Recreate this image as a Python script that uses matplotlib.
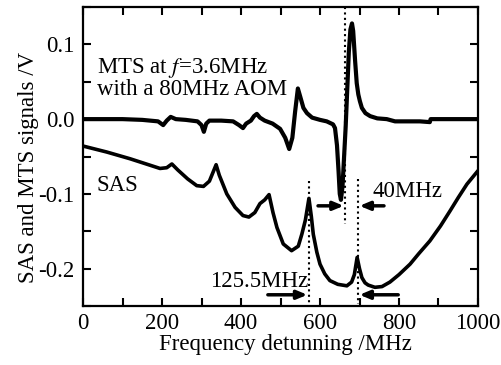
import numpy as np
import matplotlib
matplotlib.use("Agg")
import matplotlib.pyplot as plt
from matplotlib.ticker import MultipleLocator

# MTS signal (V) vs frequency detuning (MHz)
mts_x = [0, 50, 100, 150, 190, 203, 212, 222, 235, 260, 290, 300, 306, 312, 320, 350,
         380, 395, 405, 413, 425, 433, 440, 448, 460, 480, 499, 512, 522, 530, 537, 544,
         550, 558, 567, 580, 600, 617, 633, 638, 643, 647, 650, 653, 657, 661, 665, 669,
         673, 677, 681, 684, 689, 693, 697, 701, 706, 715, 727, 745, 769, 790, 853, 878,
         880, 1000]
mts_y = [0.0, 0.0, 0.0, -0.001, -0.003, -0.008, -0.002, 0.003, 0.0, -0.001, -0.003, -0.008,
         -0.017, -0.006, -0.002, -0.002, -0.003, -0.008, -0.012, -0.006, -0.002, 0.004,
         0.007, 0.002, -0.002, -0.006, -0.013, -0.025, -0.040, -0.025, 0.010, 0.041,
         0.030, 0.015, 0.008, 0.002, -0.001, -0.003, -0.007, -0.012, -0.035, -0.070,
         -0.100, -0.108, -0.090, -0.050, -0.010, 0.040, 0.090, 0.120, 0.128, 0.118,
         0.077, 0.048, 0.033, 0.024, 0.015, 0.008, 0.004, 0.001, 0.0, -0.003, -0.003,
         -0.004, 0.0, 0.0]

# SAS signal (V) vs frequency detuning (MHz)
sas_x = [0, 60, 119, 160, 195, 212, 225, 240, 265, 288, 305, 320, 337, 345, 364, 385,
         405, 420, 435, 448, 460, 471, 481, 491, 507, 528, 545, 554, 563, 572, 578, 583,
         592, 600, 612, 625, 645, 668, 680, 687, 694, 700, 706, 714, 722, 739, 757, 777,
         800, 828, 850, 878, 905, 929, 950, 972, 1000]
sas_y = [-0.036, -0.044, -0.053, -0.060, -0.066, -0.065, -0.060, -0.068, -0.080, -0.089,
         -0.090, -0.083, -0.061, -0.075, -0.100, -0.118, -0.129, -0.131, -0.125, -0.113,
         -0.108, -0.101, -0.125, -0.145, -0.167, -0.176, -0.170, -0.154, -0.135, -0.106,
         -0.130, -0.154, -0.178, -0.194, -0.207, -0.216, -0.221, -0.223, -0.218, -0.208,
         -0.185, -0.200, -0.212, -0.219, -0.222, -0.225, -0.224, -0.218, -0.208, -0.194,
         -0.180, -0.163, -0.143, -0.123, -0.105, -0.087, -0.069]

x_ticks = [0, 200, 400, 600, 800, 1000]
y_ticks = [-0.2, -0.1, 0.0, 0.1]
y_tick_labels = ["-0.2", "-0.1", "0.0", "0.1"]

plt.rcParams['font.family'] = ['Liberation Serif', 'DejaVu Serif']
plt.rcParams['mathtext.fontset'] = 'stix'
FS = 16.5

fig = plt.figure(figsize=(5.01, 3.65), dpi=100)
ax = fig.add_axes([83/501, 1-306/365, (478-83)/501, (306-7)/365])

ax.plot(mts_x, mts_y, color='black', lw=3.0, solid_joinstyle='round', solid_capstyle='round')
ax.plot(sas_x, sas_y, color='black', lw=2.6, solid_joinstyle='round', solid_capstyle='round')

ax.set_xlim(0, 1000)
ax.set_ylim(-0.25, 0.15)
ax.set_xticks(x_ticks)
ax.set_yticks(y_ticks)
ax.set_yticklabels(y_tick_labels)
ax.xaxis.set_minor_locator(MultipleLocator(100))
ax.yaxis.set_minor_locator(MultipleLocator(0.05))
ax.tick_params(which='both', direction='in', top=True, right=True, width=1.5,
               labelsize=FS, pad=6)
ax.tick_params(axis='x', which='both', pad=5)
ax.tick_params(which='major', length=6)
ax.tick_params(which='minor', length=6)
for s in ax.spines.values():
    s.set_linewidth(1.6)

ax.set_xlabel("Frequency detunning /MHz", fontsize=FS)
ax.set_ylabel("SAS and MTS signals /V", fontsize=FS)
ax.xaxis.set_label_coords(0.513, -0.093, transform=ax.transAxes)
ax.xaxis.label.set_va('top')
ax.yaxis.set_label_coords(-0.112, 0.465, transform=ax.transAxes)

# dotted vertical markers
dot = dict(color='black', lw=1.5, linestyle=(0, (1, 1.6)))
ax.plot([572, 572], [-0.083, -0.247], **dot)
ax.plot([697, 697], [-0.08, -0.247], **dot)
ax.plot([664, 664], [0.15, -0.14], **dot)

# arrows
ap = dict(arrowstyle='-|>,head_length=0.6,head_width=0.25', color='black', lw=2.5,
          shrinkA=0, shrinkB=0)
ax.annotate('', xy=(568, -0.235), xytext=(468, -0.235), arrowprops=ap)
ax.annotate('', xy=(700, -0.235), xytext=(798, -0.235), arrowprops=ap)
ax.annotate('', xy=(660, -0.116), xytext=(595, -0.116), arrowprops=ap)
ax.annotate('', xy=(700, -0.116), xytext=(762, -0.116), arrowprops=ap)

ax.text(35, 0.085, "MTS at $\\mathit{f}$=3.6MHz\nwith a 80MHz AOM", fontsize=FS,
        va='top', ha='left', linespacing=0.95)
ax.text(35, -0.096, "SAS", fontsize=FS, va='baseline', ha='left')
ax.text(322, -0.225, "125.5MHz", fontsize=FS, va='baseline', ha='left')
ax.text(734, -0.104, "40MHz", fontsize=FS, va='baseline', ha='left')

fig.savefig("out.png", dpi=100)
